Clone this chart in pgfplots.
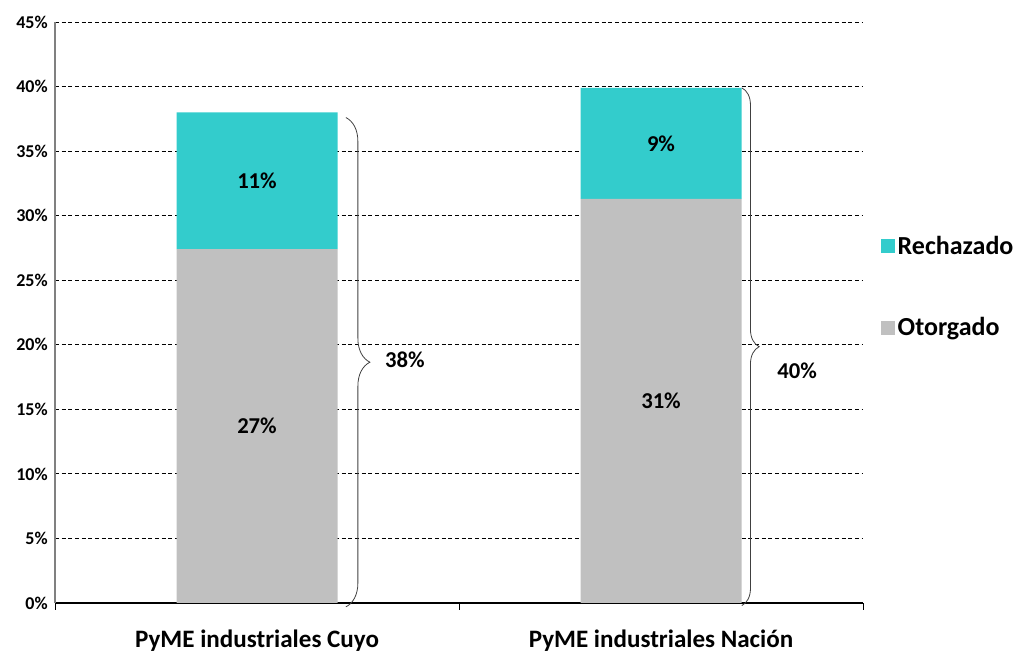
\documentclass[border=0pt]{standalone}
\usepackage{fontspec}
\setmainfont{Carlito}
\usepackage{pgfplots}
\pgfplotsset{compat=1.18}
\usetikzlibrary{decorations.pathreplacing}
\definecolor{tealA}{HTML}{33CCCC}
\definecolor{grayA}{HTML}{C0C0C0}
\tikzset{lbl/.style={font=\bfseries\fontsize{17}{19}\selectfont}}
\begin{document}
\begin{tikzpicture}
\path[use as bounding box] (-41.25pt,-39pt) rectangle (720.75pt,452.25pt);
\begin{axis}[
  at={(0pt,0pt)}, anchor=south west,
  scale only axis, width=606pt, height=435.75pt,
  ybar stacked, bar width=120.75pt,
  xmin=-0.5, xmax=1.5, ymin=0, ymax=45,
  ytick={0,5,...,45},
  yticklabel={\pgfmathprintnumber{\tick}\%},
  /pgf/number format/assume math mode=true,
  y tick label style={font=\bfseries\fontsize{13.5}{15}\selectfont, xshift=-2pt},
  ymajorgrids,
  grid style={dash pattern=on 3pt off 2pt, black, line width=0.6pt},
  xtick={0,1},
  xticklabels={PyME industriales Cuyo, PyME industriales Nación},
  x tick label style={font=\bfseries\fontsize{18.8}{22}\selectfont, yshift=-17pt},
  major tick length=0pt,
  extra x ticks={-0.5,0.5,1.5},
  extra x tick labels={},
  extra x tick style={major tick length=5pt, tick align=outside, grid=none, tick style={black, line width=0.6pt}},
  axis x line*=bottom, axis y line*=left,
  x axis line style={black, line width=0.8pt, -},
  y axis line style={gray, line width=1.2pt, -},
  clip=false,
  legend style={draw=none, fill=none, at={(1.017,0.641)}, anchor=north west,
    row sep=42pt, font=\bfseries\fontsize{19.5}{22}\selectfont, /tikz/every even column/.append style={column sep=2pt}},
  legend cell align=left,
  reverse legend,
  legend image code/.code={\fill[#1] (0pt,-5.2pt) rectangle (10.5pt,5.2pt);},
  after end axis/.code={
    \node[lbl] at (axis cs:0,13.7) {27\%};
    \node[lbl] at (axis cs:0,32.7) {11\%};
    \node[lbl] at (axis cs:1,15.65) {31\%};
    \node[lbl] at (axis cs:1,35.6) {9\%};
    \draw[decorate, decoration={brace, amplitude=18pt}, black!75, line width=0.6pt] (axis cs:0.22,37.6) -- (axis cs:0.22,-0.3);
    \draw[decorate, decoration={brace, amplitude=13pt}, black!75, line width=0.6pt] (axis cs:1.2,39.9) -- (axis cs:1.2,-0.2);
    \node[lbl] at (axis cs:0.366,18.8) {38\%};
    \node[lbl] at (axis cs:1.337,18.0) {40\%};
  },
]
\addplot[fill=grayA, draw=none] coordinates {(0,27.4) (1,31.3)};
\addlegendentry{Otorgado}
\addplot[fill=tealA, draw=none] coordinates {(0,10.6) (1,8.6)};
\addlegendentry{Rechazado}
\end{axis}
\end{tikzpicture}
\end{document}
